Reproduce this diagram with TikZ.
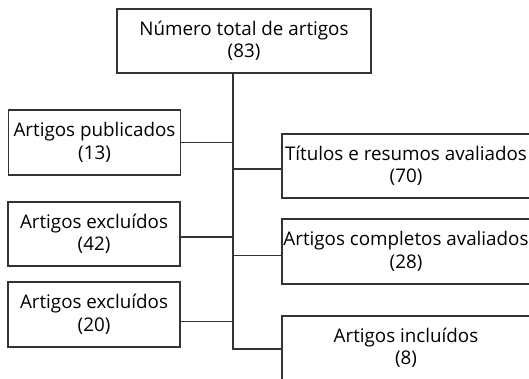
\documentclass[tikz,border=0pt]{standalone}
\usepackage{fontspec}
\setmainfont{Open Sans}[Ligatures=NoCommon]
\usetikzlibrary{positioning}

\tikzset{
  caixa/.style={draw=black!80, line width=1.2pt, inner sep=0pt, align=center,
    font=\fontsize{18.8}{22.5}\selectfont, minimum height=64pt},
  caixaesq/.style={caixa, minimum width=172pt},
  caixadir/.style={caixa, minimum width=248pt},
  liga/.style={draw=black!80, line width=1.2pt}
}

\begin{document}
\begin{tikzpicture}[x=1pt, y=-1pt]
  %%%%% START %%%%%
  \useasboundingbox (0,0) rectangle (529,379);

  \node[caixa, minimum width=254pt] (total) at (244,41) {Número total de artigos\\(83)};

  \node[caixaesq, minimum height=65pt] (publicados) at (94.5,142.5) {Artigos publicados\\(13)};
  \node[caixaesq] (excl1) at (94,234) {Artigos excluídos\\(42)};
  \node[caixaesq, minimum height=65pt] (excl2) at (94,314.5) {Artigos excluídos\\(20)};

  \node[caixadir] (titulos) at (406,166) {Títulos e resumos avaliados\\(70)};
  \node[caixadir, minimum height=65pt] (completos) at (406,251.5) {Artigos completos avaliados\\(28)};
  \node[caixadir] (incluidos) at (406,348) {Artigos incluídos\\(8)};

  \coordinate (tronco) at (233,73);
  \coordinate (fim) at (233,349);

  \draw[liga] (tronco) -- (fim) -- (fim -| incluidos.west);

  \draw[liga] (publicados.east) -- (publicados.east -| tronco);
  \draw[liga] ([yshift=-3pt]excl1.east) -- ([yshift=-3pt]excl1.east -| tronco);
  \draw[liga] ([yshift=-7pt]excl2.east) -- ([yshift=-7pt]excl2.east -| tronco);

  \draw[liga] ([yshift=-3pt]titulos.west) -- ([yshift=-3pt]titulos.west -| tronco);
  \draw[liga] ([yshift=-4pt]completos.west) -- ([yshift=-4pt]completos.west -| tronco);
  %%%%% END %%%%%
\end{tikzpicture}
\end{document}
